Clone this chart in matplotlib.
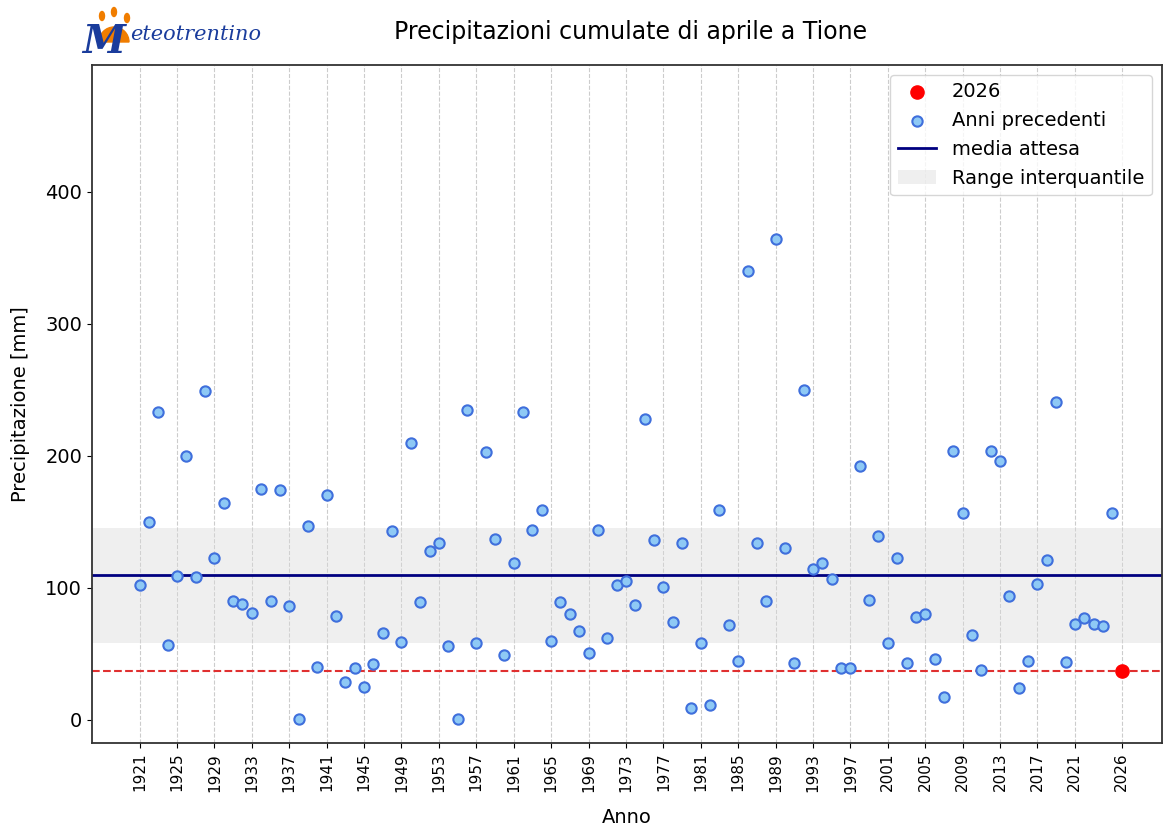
import matplotlib.pyplot as plt
from matplotlib.patches import Wedge, Ellipse
import numpy as np

# precipitazioni cumulate di aprile [mm], 1921-2025
anni = list(range(1921, 2026))
precip = [102, 150, 233, 57, 109, 200, 108, 249, 123, 164,
          90, 88, 81, 175, 90, 174, 86, 1, 147, 40,
          170, 79, 29, 39, 25, 42, 66, 143, 59, 210,
          89, 128, 134, 56, 1, 235, 58, 203, 137, 49,
          119, 233, 144, 159, 60, 89, 80, 67, 51, 144,
          62, 102, 105, 87, 228, 136, 101, 74, 134, 9,
          58, 11, 159, 72, 45, 340, 134, 90, 364, 130,
          43, 250, 114, 119, 107, 39, 39, 192, 91, 139,
          58, 123, 43, 78, 80, 46, 17, 204, 157, 64,
          38, 204, 196, 94, 24, 45, 103, 121, 241, 44,
          73, 77, 73, 71, 157]
anno_corrente = 2026
precip_corrente = 37.3
media = 110
q25 = 58
q75 = 145

tick_anni = list(range(1921, 2022, 4)) + [2026]

fig = plt.figure(figsize=(11.63, 8.33), dpi=100)
ax = fig.add_axes([0.079, 0.108, 0.92, 0.814])

ax.axhspan(q25, q75, color='#d9d9d9', alpha=0.4, lw=0, label='Range interquantile', zorder=1)
ax.axhline(media, color='navy', lw=2, label='media attesa', zorder=2)
ax.axhline(precip_corrente, color='#e03030', lw=1.5, ls='--', zorder=2)
ax.scatter(anni, precip, s=55, color='#8ec9f5', edgecolor='#3f6fdc', linewidth=1.5,
           label='Anni precedenti', zorder=3)
ax.scatter([anno_corrente], [precip_corrente], s=90, color='red', label=str(anno_corrente), zorder=4)

ax.set_xlim(1915.9, 2030.3)
ax.set_ylim(-17.5, 496)
ax.set_xticks(tick_anni)
ax.set_xticklabels([str(a) for a in tick_anni], rotation=90, fontsize=11)
ax.set_yticks([0, 100, 200, 300, 400])
ax.tick_params(axis='y', labelsize=14)
ax.grid(axis='x', ls='--', color='#cccccc', lw=0.8)
ax.set_axisbelow(True)
for s in ax.spines.values():
    s.set_linewidth(1.3)
    s.set_color('#333333')

ax.set_xlabel('Anno', fontsize=14, labelpad=12)
ax.set_ylabel('Precipitazione [mm]', fontsize=14)
ax.yaxis.set_label_coords(-0.058, 0.5)
fig.text(0.542, 0.962, 'Precipitazioni cumulate di aprile a Tione', ha='center', va='center', fontsize=17)

# logo (ricostruito con testo e forme semplici)
lax = fig.add_axes([80 / 1163, 1 - 64 / 833, 180 / 1163, 60 / 833])
lax.set_xlim(0, 180)
lax.set_ylim(0, 60)
lax.axis('off')
lax.add_patch(Wedge((34, 22), 15, 0, 180, color='#f07d00', zorder=1))
for cx, cy in [(22, 48), (34, 52), (47, 46)]:
    lax.add_patch(Ellipse((cx, cy), 5, 9, color='#f07d00', zorder=1))
lax.text(24, 22, 'M', ha='center', va='center', fontsize=28, color='#1a3c9c',
         style='italic', fontweight='bold', family='DejaVu Serif', zorder=2)
lax.text(50, 30, 'eteotrentino', ha='left', va='center', fontsize=15, color='#1a3c9c',
         style='italic', family='DejaVu Serif', zorder=2)

h, l = ax.get_legend_handles_labels()
order = [l.index('2026'), l.index('Anni precedenti'), l.index('media attesa'), l.index('Range interquantile')]
ax.legend([h[i] for i in order], [l[i] for i in order], loc='upper right', fontsize=14)

fig.savefig('out.png', dpi=100)
